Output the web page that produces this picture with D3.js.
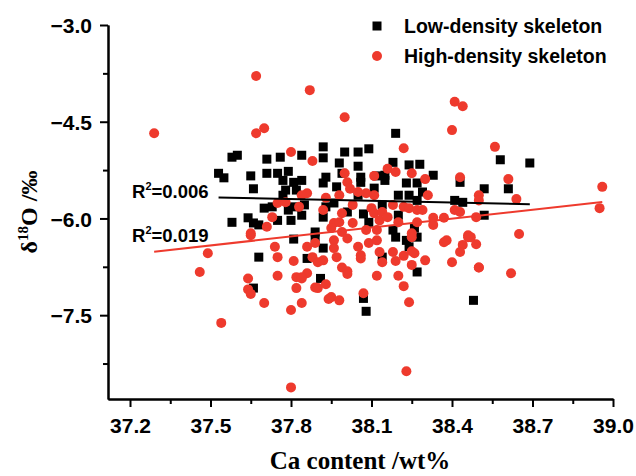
<!DOCTYPE html>
<html>
<head>
<meta charset="utf-8">
<style>
    body { margin: 0; background: #fff; }
    svg { display: block; }
    .axis text {
        font-family: 'Liberation Sans', Arial, sans-serif;
        font-weight: bold;
        font-size: 21px;
        fill: #000;
    }
    .axis path, .axis line { stroke: #000; stroke-width: 2; }
    .legend text, .r2 {
        font-family: 'Liberation Sans', Arial, sans-serif;
        font-weight: bold;
        fill: #000;
    }
    .title {
        font-family: 'Liberation Serif', 'Times New Roman', serif;
        font-weight: bold;
        fill: #000;
    }
</style>
</head>
<body>
<svg width="636" height="476"></svg>

<script src="https://d3js.org/d3.v7.min.js"></script>
<script>
// low-density skeleton: [Ca wt%, d18O]
let lowDensity = [
    [37.58,-5.05],[37.60,-5.02],[37.71,-5.08],[37.76,-5.05],[37.53,-5.30],[37.55,-5.37],[37.65,-5.34],[37.66,-5.54],
    [37.71,-5.30],[37.75,-5.30],[37.79,-5.27],[37.77,-5.41],[37.81,-5.44],[37.78,-5.56],[37.82,-5.56],[37.77,-5.64],
    [37.70,-5.84],[37.73,-5.82],[37.79,-5.87],[37.81,-5.82],[37.58,-6.06],[37.64,-5.99],[37.66,-6.07],[37.68,-6.10],
    [37.75,-6.03],[37.80,-6.03],[37.92,-4.89],[37.84,-5.02],[37.92,-5.06],[38.00,-4.97],[38.05,-4.97],[38.09,-4.92],
    [37.98,-5.14],[37.99,-5.30],[37.93,-5.36],[37.92,-5.45],[37.84,-5.41],[37.97,-5.51],[38.06,-5.36],[38.06,-5.44],
    [38.12,-5.34],[38.15,-5.41],[38.05,-5.64],[38.11,-5.53],[37.85,-5.79],[37.93,-5.82],[37.96,-5.76],[38.01,-5.90],
    [38.07,-5.93],[38.14,-5.79],[37.84,-5.95],[37.92,-5.98],[38.09,-6.06],[37.89,-6.21],[38.18,-5.13],[38.24,-5.17],
    [38.28,-5.16],[38.33,-5.33],[38.23,-5.45],[38.27,-5.45],[38.29,-5.59],[38.20,-5.64],[38.24,-5.64],[38.27,-5.72],
    [38.41,-5.72],[38.44,-5.75],[38.43,-5.44],[38.20,-5.95],[38.18,-6.18],[38.26,-6.15],[37.68,-6.60],[37.66,-7.08],
    [37.81,-6.32],[37.92,-6.46],[37.86,-6.62],[37.91,-6.93],[38.07,-7.24],[38.08,-7.44],[38.14,-6.60],[37.89,-6.29],
    [38.19,-6.29],[38.23,-6.34],[38.24,-6.44],[38.27,-6.29],[38.27,-6.83],[38.48,-7.27],[38.58,-5.09],[38.69,-5.14],
    [38.52,-5.54],[38.61,-5.54],[38.52,-5.95],[38.19,-4.68],[38.05,-5.19],[38.15,-5.33]
];

// high-density skeleton
let highDensity = [
    [37.29,-4.68],[37.67,-3.79],[37.87,-4.01],[37.67,-4.68],[37.70,-4.60],[37.80,-4.97],[37.88,-5.11],[37.75,-5.76],
    [37.78,-5.75],[37.73,-5.98],[37.71,-6.13],[37.65,-6.23],[38.41,-4.19],[38.44,-4.26],[38.00,-4.43],[38.40,-4.63],
    [38.22,-4.91],[38.56,-4.89],[38.00,-5.30],[38.01,-5.44],[38.02,-5.54],[38.05,-5.59],[38.08,-5.61],[38.11,-5.34],
    [38.16,-5.23],[38.11,-5.64],[37.86,-5.61],[37.84,-5.64],[37.98,-5.64],[37.93,-5.68],[37.92,-5.87],[37.83,-5.82],
    [37.99,-5.92],[38.03,-5.79],[38.10,-5.84],[38.11,-5.92],[38.14,-5.90],[38.13,-6.03],[38.16,-5.98],[37.96,-6.07],
    [37.98,-6.06],[37.95,-6.15],[38.03,-6.07],[37.99,-6.21],[38.12,-6.18],[38.08,-6.18],[38.19,-5.28],[38.25,-5.30],
    [38.30,-5.39],[38.43,-5.36],[38.31,-5.64],[38.50,-5.64],[38.18,-5.79],[38.22,-5.82],[38.24,-5.84],[38.27,-5.87],
    [38.29,-5.87],[38.41,-5.87],[38.43,-5.90],[38.20,-6.06],[38.27,-6.06],[38.33,-5.99],[38.33,-6.10],[38.37,-5.99],
    [38.25,-6.23],[38.46,-6.26],[38.49,-5.98],[37.65,-6.26],[37.74,-6.44],[37.75,-6.60],[37.81,-6.66],[37.49,-6.54],
    [37.64,-6.93],[37.64,-7.10],[37.65,-7.17],[37.75,-6.89],[37.82,-6.91],[37.82,-7.08],[37.70,-7.31],[37.80,-7.42],
    [37.54,-7.62],[37.86,-6.44],[37.89,-6.38],[37.96,-6.34],[37.96,-6.46],[38.01,-6.31],[38.05,-6.44],[38.09,-6.38],
    [38.12,-6.34],[38.13,-6.52],[37.88,-6.60],[37.92,-6.65],[37.90,-6.68],[37.97,-6.60],[38.06,-6.57],[38.06,-6.62],
    [38.14,-6.68],[37.99,-6.76],[38.01,-6.82],[38.01,-6.86],[38.12,-6.89],[37.86,-6.85],[37.84,-6.91],[37.93,-7.02],
    [37.90,-7.08],[37.95,-7.22],[37.98,-7.27],[37.94,-7.25],[37.84,-7.31],[38.07,-7.16],[38.25,-6.29],[38.37,-6.37],
    [38.38,-6.34],[38.46,-6.29],[38.49,-6.40],[38.44,-6.41],[38.43,-6.52],[38.18,-6.52],[38.22,-6.58],[38.26,-6.54],
    [38.25,-6.51],[38.19,-6.66],[38.30,-6.65],[38.25,-6.72],[38.40,-6.68],[38.50,-6.76],[38.20,-6.89],[38.22,-7.05],
    [38.24,-7.30],[38.61,-5.39],[38.64,-5.70],[38.96,-5.51],[38.95,-5.84],[38.47,-6.29],[38.65,-6.24],[38.50,-6.76],
    [38.62,-6.85],[37.46,-6.83],[37.84,-6.93],[37.89,-7.07],[37.80,-8.62],[38.23,-8.37],[38.50,-5.72]
];

// linear fits (slope, intercept) and R^2
let fitSlopes = [-0.0894, 0.4622];
let fitIntercepts = [-2.319, -23.751];
let fitR2 = ["0.006", "0.019"];

let seriesNames = ["Low-density skeleton", "High-density skeleton"];
let seriesColors = ["#000000", "#ee3a2d"];

let xTicks = [37.2, 37.5, 37.8, 38.1, 38.4, 38.7, 39.0];
let xMinor = [37.35, 37.65, 37.95, 38.25, 38.55, 38.85];
let yTicks = [-3.0, -4.5, -6.0, -7.5];
let yMinor = [-3.75, -5.25, -6.75, -8.25];

let svg = d3.select("svg");

let x = d3.scaleLinear().domain([37.118, 39.0]).range([108, 613]);
let y = d3.scaleLinear().domain([-8.8, -3.0]).range([399, 25]);

// minor ticks first (no labels)
svg.append("g").attr("class", "axis")
    .attr("transform", "translate(0,399)")
    .call(d3.axisBottom(x).tickValues(xMinor).tickSize(5).tickSizeOuter(0).tickFormat(""));
svg.append("g").attr("class", "axis")
    .attr("transform", "translate(108,0)")
    .call(d3.axisLeft(y).tickValues(yMinor).tickSize(5).tickSizeOuter(0).tickFormat(""));

let xAxis = svg.append("g").attr("class", "axis")
    .attr("transform", "translate(0,399)")
    .call(d3.axisBottom(x).tickValues(xTicks).tickSize(8).tickSizeOuter(0).tickPadding(11).tickFormat(d3.format(".1f")));

let yAxis = svg.append("g").attr("class", "axis")
    .attr("transform", "translate(108,0)")
    .call(d3.axisLeft(y).tickValues(yTicks).tickSize(8).tickSizeOuter(0).tickPadding(8).tickFormat(d3.format(".1f")));
yAxis.selectAll(".tick text").attr("dy", "0.36em");

// axis titles
svg.append("text").attr("class", "title")
    .attr("x", 360).attr("y", 469)
    .attr("text-anchor", "middle")
    .style("font-size", "25px")
    .text("Ca content /wt%");

let yt = svg.append("text").attr("class", "title")
    .attr("transform", "translate(37,212) rotate(-90)")
    .attr("text-anchor", "middle")
    .style("font-size", "24px");
yt.append("tspan").text("δ");
yt.append("tspan").attr("dy", -9).style("font-size", "15px").text("18");
yt.append("tspan").attr("dy", 9).text("O /‰");

// points
svg.append("g")
    .selectAll("rect")
    .data(lowDensity)
    .join("rect")
    .attr("x", d => x(d[0]) - 4.5)
    .attr("y", d => y(d[1]) - 4.5)
    .attr("width", 9)
    .attr("height", 9)
    .attr("fill", seriesColors[0]);

svg.append("g")
    .selectAll("circle")
    .data(highDensity)
    .join("circle")
    .attr("cx", d => x(d[0]))
    .attr("cy", d => y(d[1]))
    .attr("r", 5)
    .attr("fill", seriesColors[1]);

// fit lines over the range of each series
[lowDensity, highDensity].forEach((data, i) => {
    let ext = d3.extent(data, d => d[0]);
    svg.append("line")
        .attr("x1", x(ext[0])).attr("x2", x(ext[1]))
        .attr("y1", y(fitSlopes[i] * ext[0] + fitIntercepts[i]))
        .attr("y2", y(fitSlopes[i] * ext[1] + fitIntercepts[i]))
        .attr("stroke", seriesColors[i])
        .attr("stroke-width", 2);
});

// R2 labels
let r2y = [198, 242];
fitR2.forEach((v, i) => {
    let t = svg.append("text").attr("class", "r2")
        .attr("x", 132).attr("y", r2y[i])
        .style("font-size", "18.5px");
    t.append("tspan").text("R");
    t.append("tspan").attr("dy", -8).style("font-size", "11px").text("2");
    t.append("tspan").attr("dy", 8).text("=" + v);
});

// legend
let legend = svg.append("g").attr("class", "legend");
legend.append("rect").attr("x", 372.5).attr("y", 21.5).attr("width", 9).attr("height", 9).attr("fill", seriesColors[0]);
legend.append("circle").attr("cx", 377).attr("cy", 56).attr("r", 5).attr("fill", seriesColors[1]);
seriesNames.forEach((s, i) => {
    legend.append("text")
        .attr("x", 404).attr("y", 33 + i * 30)
        .style("font-size", "19.5px")
        .text(s);
});
</script>
</body>
</html>
